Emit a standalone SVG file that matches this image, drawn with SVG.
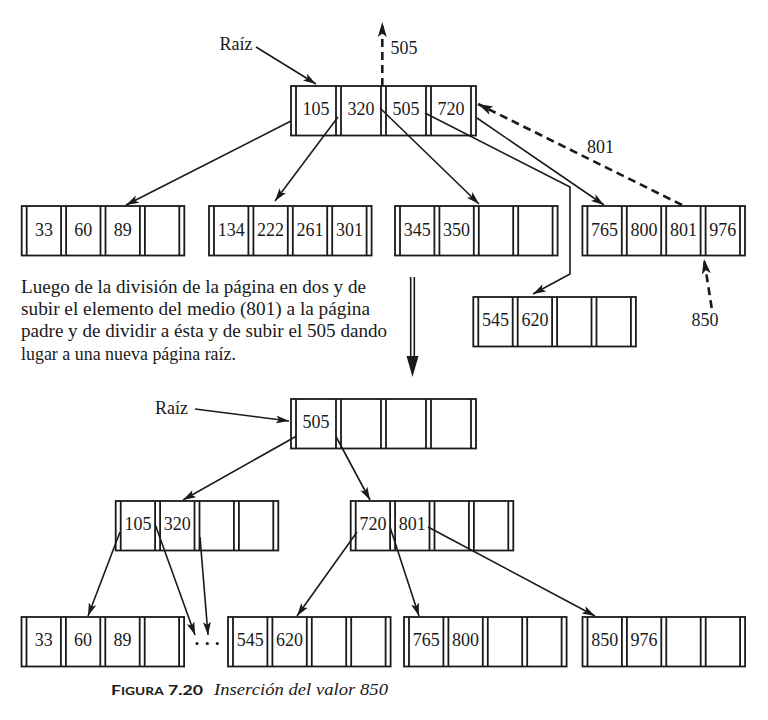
<svg xmlns="http://www.w3.org/2000/svg" xmlns:xlink="http://www.w3.org/1999/xlink" width="768" height="720" viewBox="0 0 768 720">
<style>
.fr{fill:none;stroke:#1a1a1a;stroke-width:1.8}
.num{font-family:'Liberation Serif','DejaVu Serif','Times New Roman',serif;font-size:18px;fill:#1a1a1a;text-anchor:middle}
.lbl{font-family:'Liberation Serif','DejaVu Serif','Times New Roman',serif;font-size:18px;fill:#1a1a1a}
.para{font-family:'Liberation Serif','DejaVu Serif','Times New Roman',serif;font-size:18px;fill:#1a1a1a}
.cap{font-family:'Liberation Serif','DejaVu Serif','Times New Roman',serif;font-style:italic;font-size:16.5px;fill:#1a1a1a}
.ar{fill:none;stroke:#1a1a1a;stroke-width:1.6;marker-end:url(#ah)}
.da{fill:none;stroke:#1a1a1a;stroke-width:2.6;stroke-dasharray:8 5;marker-end:url(#ahd)}
</style>
<defs>
<marker id="ah" markerUnits="userSpaceOnUse" markerWidth="14" markerHeight="10" refX="13" refY="5" orient="auto">
<path d="M0,1 L13,5 L0,9 L3,5 z" fill="#1a1a1a"/>
</marker>
<marker id="ahd" markerUnits="userSpaceOnUse" markerWidth="16" markerHeight="12" refX="15" refY="6" orient="auto">
<path d="M0,1.5 L15,6 L0,10.5 L3.5,6 z" fill="#1a1a1a"/>
</marker>
<g id="leafFrame" class="fr">
<rect x="0" y="0" width="162.6" height="49.5"/>
<path d="M5,0V49.5M39.4,0V49.5M44.4,0V49.5M78.8,0V49.5M83.8,0V49.5M118.2,0V49.5M123.2,0V49.5M157.6,0V49.5"/>
</g>
<g id="rootFrame" class="fr">
<rect x="0" y="0" width="185" height="49.5"/>
<path d="M5,0V49.5M45,0V49.5M50,0V49.5M90,0V49.5M95,0V49.5M135,0V49.5M140,0V49.5M180,0V49.5"/>
</g>
</defs>
<rect width="768" height="720" fill="#ffffff"/>

<!-- Top section -->
<g id="top-root">
<use xlink:href="#rootFrame" x="291" y="86"/>
<text class="num" x="316" y="115">105</text>
<text class="num" x="361" y="115">320</text>
<text class="num" x="406" y="115">505</text>
<text class="num" x="451" y="115">720</text>
</g>
<g id="top-n1">
<use xlink:href="#leafFrame" x="21.7" y="206"/>
<text class="num" x="43.9" y="235.5">33</text>
<text class="num" x="83.3" y="235.5">60</text>
<text class="num" x="122.7" y="235.5">89</text>
</g>
<g id="top-n2">
<use xlink:href="#leafFrame" x="209" y="206"/>
<text class="num" x="231.2" y="235.5">134</text>
<text class="num" x="270.6" y="235.5">222</text>
<text class="num" x="310" y="235.5">261</text>
<text class="num" x="349.4" y="235.5">301</text>
</g>
<g id="top-n3">
<use xlink:href="#leafFrame" x="395" y="206"/>
<text class="num" x="417.2" y="235.5">345</text>
<text class="num" x="456.6" y="235.5">350</text>
</g>
<g id="top-n4">
<use xlink:href="#leafFrame" x="582.4" y="206"/>
<text class="num" x="604.6" y="235.5">765</text>
<text class="num" x="644" y="235.5">800</text>
<text class="num" x="683.4" y="235.5">801</text>
<text class="num" x="722.8" y="235.5">976</text>
</g>
<g id="top-n545">
<use xlink:href="#leafFrame" x="473.3" y="297"/>
<text class="num" x="495.5" y="326">545</text>
<text class="num" x="534.9" y="326">620</text>
</g>
<g id="top-labels">
<text class="lbl" x="219.5" y="49.5">Raíz</text>
<text class="lbl" x="390.5" y="54">505</text>
<text class="lbl" x="587" y="153">801</text>
<text class="lbl" x="705" y="326" text-anchor="middle">850</text>
</g>

<!-- Paragraph -->
<g id="note">
<text class="para" x="21" y="292.7" textLength="345" lengthAdjust="spacingAndGlyphs">Luego de la división de la página en dos y de</text>
<text class="para" x="21" y="315" textLength="349" lengthAdjust="spacingAndGlyphs">subir el elemento del medio (801) a la página</text>
<text class="para" x="21" y="337.3" textLength="366" lengthAdjust="spacingAndGlyphs">padre y de dividir a ésta y de subir el 505 dando</text>
<text class="para" x="21" y="359.5" textLength="215" lengthAdjust="spacingAndGlyphs">lugar a una nueva página raíz.</text>
</g>

<!-- Bottom section -->
<g id="bot-root">
<use xlink:href="#rootFrame" x="291" y="399"/>
<text class="num" x="316" y="428">505</text>
</g>
<g id="bot-a">
<use xlink:href="#leafFrame" x="115.7" y="501"/>
<text class="num" x="137.9" y="530">105</text>
<text class="num" x="177.3" y="530">320</text>
</g>
<g id="bot-b">
<use xlink:href="#leafFrame" x="350.7" y="501"/>
<text class="num" x="372.9" y="530">720</text>
<text class="num" x="412.3" y="530">801</text>
</g>
<g id="leaf1">
<use xlink:href="#leafFrame" x="21.5" y="617"/>
<text class="num" x="43.7" y="646">33</text>
<text class="num" x="83.1" y="646">60</text>
<text class="num" x="122.5" y="646">89</text>
</g>
<g id="leaf2">
<use xlink:href="#leafFrame" x="228" y="617"/>
<text class="num" x="250.2" y="646">545</text>
<text class="num" x="289.6" y="646">620</text>
</g>
<g id="leaf3">
<use xlink:href="#leafFrame" x="404" y="617"/>
<text class="num" x="426.2" y="646">765</text>
<text class="num" x="465.6" y="646">800</text>
</g>
<g id="leaf4">
<use xlink:href="#leafFrame" x="582.5" y="617"/>
<text class="num" x="604.7" y="646">850</text>
<text class="num" x="644.1" y="646">976</text>
</g>
<g id="bot-labels">
<text class="lbl" x="155" y="414">Raíz</text>
<g fill="#1a1a1a"><circle cx="197" cy="643.5" r="1.6"/><circle cx="207.3" cy="643.5" r="1.6"/><circle cx="217.3" cy="643.5" r="1.6"/></g>
</g>

<!-- Connectors -->
<g id="connectors">
<path class="ar" d="M256,47 L316,84"/>
<path class="ar" d="M291,121 L126,205"/>
<path class="ar" d="M338,117 L275,201"/>
<path class="ar" d="M380,108 L479,204"/>
<path class="ar" d="M425,113 L570,187 L570,274 L533,294"/>
<path class="ar" d="M477,118 L604,205"/>
<path class="da" d="M682,205 L478,104"/>
<path class="da" d="M382.3,86 L382.3,22"/>
<path class="da" d="M711.7,308 L704,259"/>
<path d="M410.7,277V358M414.3,277V358" stroke="#1a1a1a" stroke-width="1.6" fill="none"/>
<path d="M406.5,356 L418.5,356 L412.5,377 z" fill="#1a1a1a"/>
<path class="ar" d="M195,409 L289,421"/>
<path class="ar" d="M296.7,436 L183,500"/>
<path class="ar" d="M335.7,436 L370,500"/>
<path class="ar" d="M120,532 L88,616"/>
<path class="ar" d="M155,524 L195,635"/>
<path class="ar" d="M200,537 L208,635"/>
<path class="ar" d="M357,532 L297,616"/>
<path class="ar" d="M390,527 L419,616"/>
<path class="ar" d="M428,527 L595,616"/>
</g>

<!-- Caption -->
<g id="caption">
<text x="111" y="695" font-family="Lato,'Open Sans',sans-serif" font-weight="bold" fill="#1a1a1a" textLength="92" lengthAdjust="spacingAndGlyphs"><tspan font-size="13.5">F</tspan><tspan font-size="10.5">IGURA</tspan><tspan font-size="13.5"> 7.20</tspan></text>
<text class="cap" x="214" y="695" textLength="174" lengthAdjust="spacingAndGlyphs">Inserción del valor 850</text>
</g>
</svg>
